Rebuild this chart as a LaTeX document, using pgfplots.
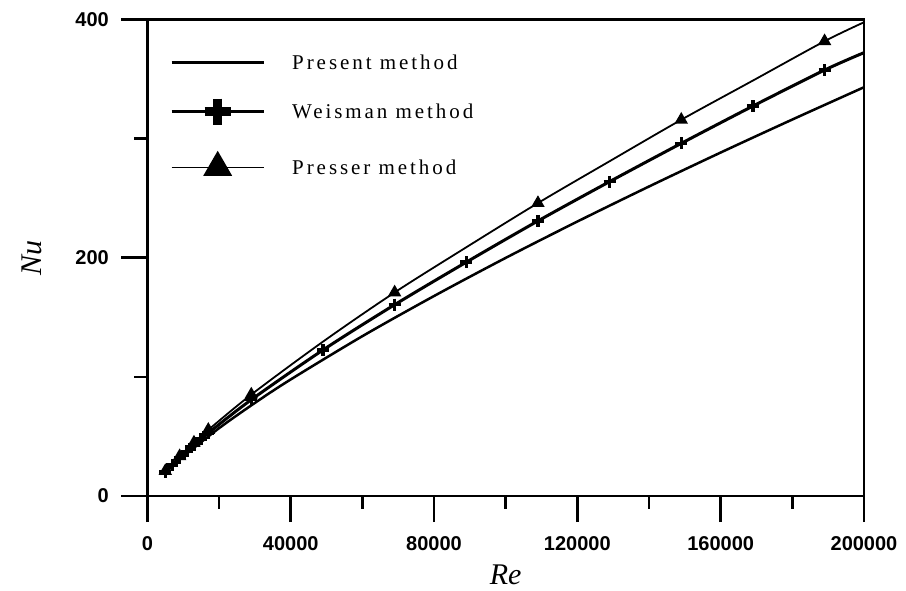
\documentclass[border=0pt]{standalone}
\usepackage{fontspec}
\setmainfont{Liberation Serif}
\newfontfamily\tickfont{Liberation Sans}
\newfontfamily\legfont[LetterSpace=14]{Liberation Serif}
\usepackage{pgfplots}
\usepackage{pgfplotstable}
\pgfplotsset{compat=1.18}

% Nusselt number against Reynolds number for the three methods
\pgfplotstableread{
Re      Nu
5000    19.3
10000   33.1
20000   56.9
30000   78.1
40000   97.8
60000   134.1
80000   167.8
100000  199.8
120000  230.3
140000  259.7
160000  288.2
180000  315.9
200000  343.0
}\present

\pgfplotstableread{
Re      Nu
5000    20.1
7000    26.2
9000    31.9
11000   37.5
13000   42.8
15000   47.9
17000   52.9
29000   80.8
49000   122.5
69000   160.5
89000   196.2
109000  230.8
129000  263.8
149000  295.9
169000  327.2
189000  357.4
200000  372.0
}\weisman

\pgfplotstableread{
Re      Nu
5000    20.9
7000    27.3
9000    33.4
11000   39.2
13000   44.8
15000   50.2
17000   55.5
29000   85.1
49000   129.5
69000   170.8
89000   208.7
109000  245.8
129000  280.9
149000  315.7
169000  348.6
189000  381.6
200000  397.5
}\presser

\begin{document}
\begin{tikzpicture}
\path (-147.4pt,-95pt) rectangle (758.6pt,496pt);
\begin{axis}[
  at={(0pt,0pt)}, anchor=south west,
  width=716.6pt, height=476.7pt, scale only axis,
  xmin=0, xmax=200000, ymin=0, ymax=400,
  xtick={0,40000,...,200000}, ytick={0,200,400},
  minor x tick num=1, minor y tick num=1,
  xtick pos=bottom, ytick pos=left,
  tick align=outside,
  major tick length=26pt, minor tick length=13pt,
  tick style={black, line width=2.6pt},
  axis line style={line width=2.6pt},
  scaled x ticks=false,
  /pgf/number format/fixed, /pgf/number format/precision=0,
  /pgf/number format/1000 sep={},
  /pgf/number format/assume math mode=true,
  tick label style={font=\tickfont\bfseries\fontsize{20}{20}\selectfont},
  xticklabel style={yshift=-11pt},
  yticklabel style={xshift=-9pt},
  xlabel={\textit{Re}}, ylabel={\textit{Nu}},
  label style={font=\fontsize{30}{30}\selectfont},
  xlabel style={at={(rel axis cs:0.5,-0.1657)}, anchor=center},
  ylabel style={at={(rel axis cs:-0.161,0.5)}, anchor=center},
  legend cell align=left,
  legend style={draw=none, fill=none, at={(rel axis cs:0,1)}, anchor=north west,
    xshift=22.6pt, yshift=-35pt, inner sep=0pt,
    font=\legfont\fontsize{21}{24}\selectfont, row sep=28pt,
    /tikz/every odd column/.append style={column sep=27pt},
    nodes={inner sep=0pt}},
  legend image code/.code={\draw[mark repeat=2,mark phase=2,#1]
    plot coordinates {(0pt,0pt) (46pt,0pt) (92pt,0pt)};},
]
\addlegendimage{black, line width=2.5pt}
\addlegendentry{Present method}
\addlegendimage{black, line width=3pt, mark=+, mark size=13pt, mark options={line width=9pt}}
\addlegendentry{Weisman method}
\addlegendimage{black, line width=1.8pt, mark=triangle*, mark size=15pt}
\addlegendentry{Presser method}

\addplot[forget plot, black, line width=2.5pt, smooth] table {\present};
\addplot[forget plot, black, line width=3pt, smooth, mark=+, mark size=6pt,
  mark indices={1,...,16}, mark options={line width=3.5pt}] table {\weisman};
\addplot[forget plot, black, line width=1.8pt, smooth, mark=triangle*, mark size=6pt,
  mark indices={1,3,5,7,8,10,12,14,16}] table {\presser};
\end{axis}
\end{tikzpicture}
\end{document}
